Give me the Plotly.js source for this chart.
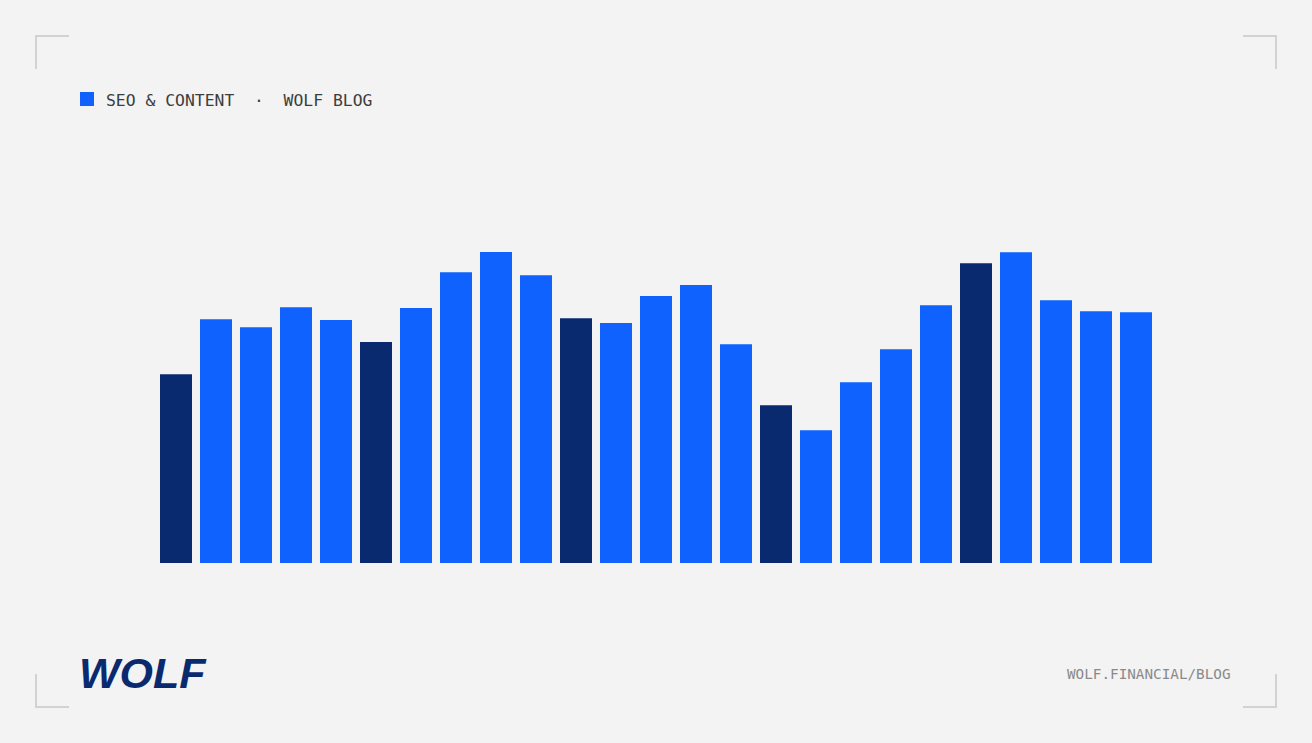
<!DOCTYPE html>
<html>
<head>
<meta charset="utf-8">
<script src="https://cdn.plot.ly/plotly-3.0.1.min.js"></script>
<style>
html,body{margin:0;padding:0;background:#f3f3f3;}
#chart{width:1312px;height:743px;}
</style>
</head>
<body>
<div id="chart"></div>
<script>
// Data
const categories = ["1","2","3","4","5","6","7","8","9","10","11","12","13","14","15","16","17","18","19","20","21","22","23","24","25"];
const values = [188.7,243.7,235.7,255.7,243,221,255,290.7,311,287.7,244.7,240,267,278,218.7,157.7,132.7,180.7,213.7,257.7,299.7,310.7,262.7,251.7,250.7];
const highlighted = [true,false,false,false,false,true,false,false,false,false,true,false,false,false,false,true,false,false,false,false,true,false,false,false,false];
const legendLabel = "SEO & CONTENT\u00A0\u00A0·\u00A0\u00A0WOLF BLOG";
const footerLabel = "WOLF.FINANCIAL/BLOG";
const logoLabel = "WOLF";

const BLUE = "#0f62fe", NAVY = "#0a2a70", BG = "#f3f3f3";
const W = 1312, H = 743;
const L = 156, R = 156, T = 163, B = 180;
const pw = W - L - R, ph = H - T - B;
const px = x => (x - L) / pw;
const py = y => (H - B - y) / ph;

const colors = highlighted.map(h => h ? NAVY : BLUE);

const trace = {
  type: "bar",
  x: categories,
  y: values,
  marker: {color: colors, line: {width: 0}},
  hoverinfo: "none"
};

const cornerLine = {color: "#d2d2d2", width: 2};
function seg(x0,y0,x1,y1){return {type:"line",xref:"paper",yref:"paper",x0:px(x0),y0:py(y0),x1:px(x1),y1:py(y1),line:cornerLine,layer:"above"};}

const shapes = [
  seg(36,35,36,69), seg(35,36,69,36),
  seg(1276,35,1276,69), seg(1243,36,1277,36),
  seg(36,674,36,708), seg(35,707,69,707),
  seg(1276,674,1276,708), seg(1243,707,1277,707),
  {type:"rect",xref:"paper",yref:"paper",x0:px(80),x1:px(94),y0:py(92),y1:py(106),fillcolor:BLUE,line:{width:0}}
];

const annotations = [
  {xref:"paper",yref:"paper",x:px(104),y:py(100.5),xanchor:"left",yanchor:"middle",showarrow:false,
   text:legendLabel,font:{family:"DejaVu Sans Mono, monospace",size:16.4,color:"#3d3d3d"}},
  {xref:"paper",yref:"paper",x:px(1065),y:py(674),xanchor:"left",yanchor:"middle",showarrow:false,
   text:footerLabel,font:{family:"DejaVu Sans Mono, monospace",size:14.3,color:"#8a8a8a"}},
  {xref:"paper",yref:"paper",x:px(77),y:py(673),xanchor:"left",yanchor:"middle",showarrow:false,
   text:"<b><i>"+logoLabel+"</i></b>",font:{family:"Liberation Sans, Arial, sans-serif",size:43,color:NAVY}}
];

const layout = {
  width: W, height: H,
  paper_bgcolor: BG, plot_bgcolor: BG,
  margin: {l:L, r:R, t:T, b:B, pad:0},
  showlegend: false,
  bargap: 0.2,
  xaxis: {type:"category", range:[-0.5, categories.length-0.5], visible:false, fixedrange:true},
  yaxis: {range:[0, ph], visible:false, fixedrange:true},
  shapes: shapes,
  annotations: annotations
};

Plotly.newPlot("chart", [trace], layout, {displayModeBar:false, staticPlot:true});
</script>
</body>
</html>
